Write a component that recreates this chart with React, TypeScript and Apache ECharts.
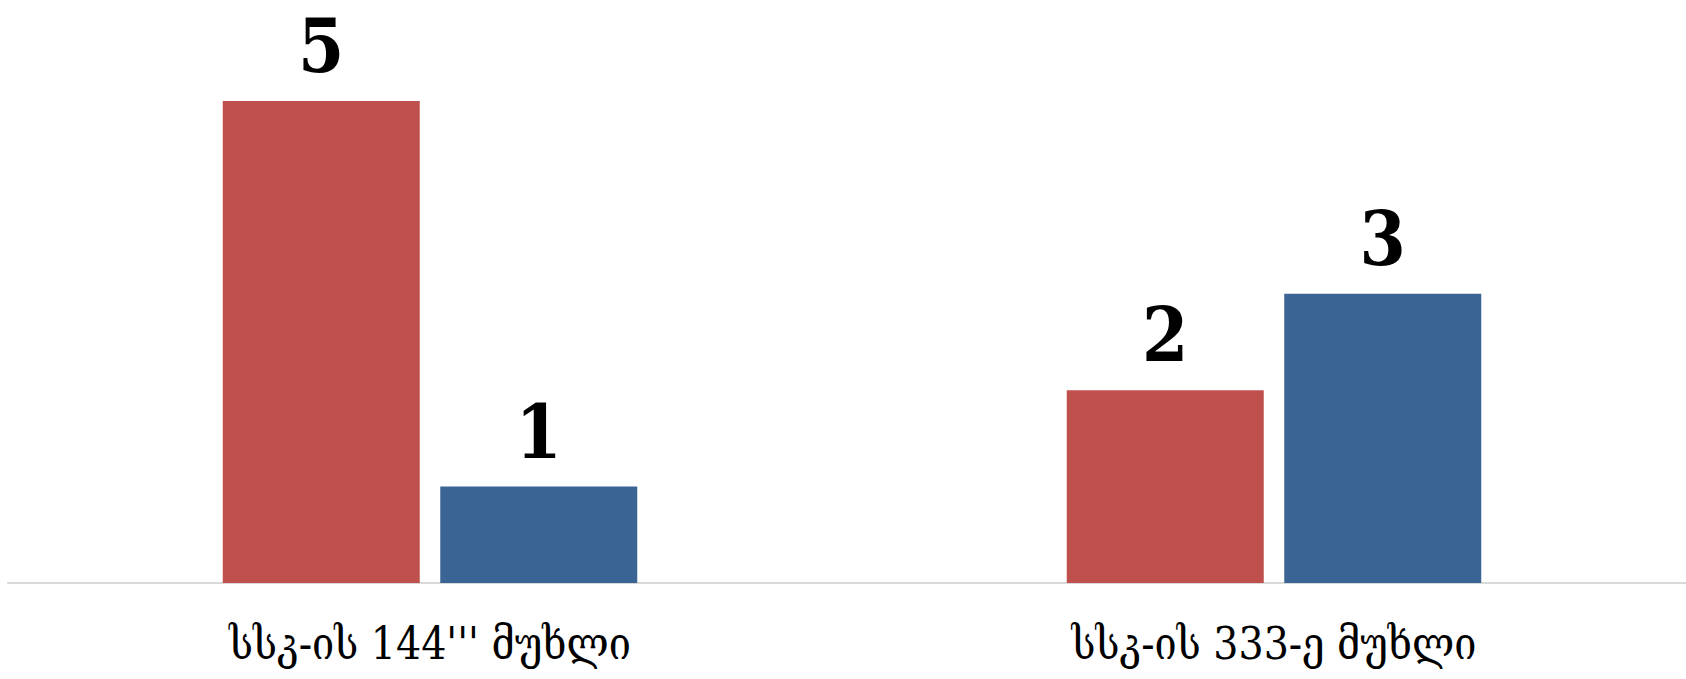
import React, { useEffect, useRef } from "react";
import * as echarts from "echarts";

const categories = ["სსკ-ის 144''' მუხლი", "სსკ-ის 333-ე მუხლი"];
const seriesRed = [5, 2];
const seriesBlue = [1, 3];

export default function App() {
  const ref = useRef<HTMLDivElement>(null);
  useEffect(() => {
    if (!ref.current) return;
    const chart = echarts.init(ref.current, undefined, { renderer: "svg" });
    const labelStyle = {
      show: true,
      position: "top" as const,
      distance: 18,
      fontSize: 74,
      fontFamily: "'DejaVu Serif Condensed', 'DejaVu Serif', serif",
      fontWeight: "bold" as const,
      color: "#000000",
    };
    chart.setOption({
      animation: false,
      backgroundColor: "#ffffff",
      grid: { left: 8, right: 0, top: 101, bottom: 96, containLabel: false },
      xAxis: {
        type: "category",
        data: categories,
        axisLine: { show: true, lineStyle: { color: "#D9D9D9", width: 2 } },
        axisTick: { show: false },
        axisLabel: {
          margin: 38,
          fontSize: 44,
          fontFamily: "'DejaVu Serif Condensed', 'DejaVu Serif', serif",
          color: "#000000",
          interval: 0,
        },
      },
      yAxis: {
        type: "value",
        min: 0,
        max: 5,
        show: false,
        splitLine: { show: false },
      },
      series: [
        {
          type: "bar",
          data: seriesRed,
          barWidth: 197,
          barGap: "10.4%",
          itemStyle: { color: "#C0504D" },
          label: labelStyle,
        },
        {
          type: "bar",
          data: seriesBlue,
          barWidth: 197,
          barGap: "10.4%",
          itemStyle: { color: "#3A6494" },
          label: labelStyle,
        },
      ],
    });
    return () => chart.dispose();
  }, []);
  return (
    <div style={{ position: "absolute", left: 0, top: 0, width: 1686, height: 679, overflow: "hidden" }}>
      <div ref={ref} style={{ width: 1696, height: 679 }} />
    </div>
  );
}
